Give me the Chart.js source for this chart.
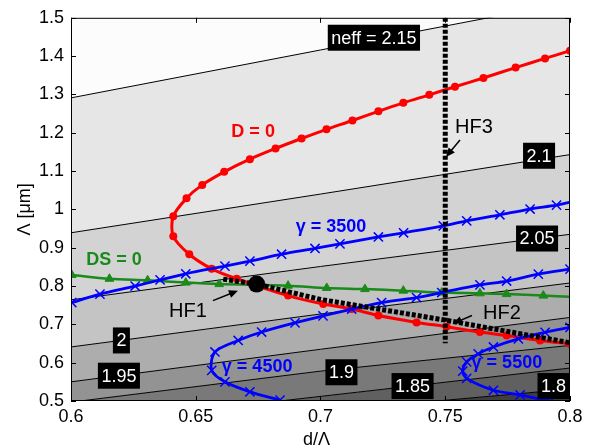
<!DOCTYPE html>
<html>
<head>
<meta charset="utf-8">
<script src="https://cdn.jsdelivr.net/npm/chart.js@4.4.1/dist/chart.umd.min.js"></script>
<style>
  html, body { margin: 0; padding: 0; background: #fff; }
  #wrap { width: 591px; height: 448px; }
</style>
</head>
<body>
<div id="wrap"><canvas id="myChart" width="591" height="448"></canvas></div>
<script>
// Contour lines of neff (Λ in µm read at d/Λ = 0.6, 0.7, 0.8)
const contourX = [0.6, 0.7, 0.8];
const neffLevels = ["2.15", "2.1", "2.05", "2", "1.95", "1.9", "1.85", "1.8"];
const neff215 = [1.291, 1.416, 1.541];
const neff210 = [0.939, 1.040, 1.143];
const neff205 = [0.764, 0.851, 0.935];
const neff200 = [0.641, 0.727, 0.808];
const neff195 = [0.550, 0.635, 0.718];
const neff190 = [0.497, 0.578, 0.645];
const neff185 = [0.438, 0.512, 0.586];
const neff180 = [0.415, 0.473, 0.531];

// D = 0 curve
const dZeroX = [0.8, 0.788, 0.7746, 0.7639, 0.7505, 0.7385, 0.7232, 0.7125, 0.7011, 0.687, 0.6664, 0.6564, 0.6474, 0.641, 0.641,
                0.6463, 0.6526, 0.6614, 0.6717, 0.682, 0.6924, 0.7024, 0.7128, 0.7232, 0.7332, 0.7436, 0.7539, 0.7653, 0.7782, 0.79, 0.8];
const dZeroY = [0.649, 0.658, 0.671, 0.680, 0.694, 0.705, 0.723, 0.740, 0.753, 0.775, 0.819, 0.845, 0.883, 0.930, 0.982,
                1.029, 1.064, 1.098, 1.131, 1.159, 1.185, 1.209, 1.232, 1.256, 1.278, 1.299, 1.320, 1.343, 1.370, 1.394, 1.414];

// γ = 3500, 4500, 5500 curves
const g3500X = [0.6003, 0.6116, 0.6257, 0.6357, 0.646, 0.6617, 0.6717, 0.6844, 0.6978, 0.7078, 0.7232, 0.7333, 0.7492, 0.7586, 0.7719, 0.784, 0.7946, 0.8];
const g3500Y = [0.757, 0.779, 0.800, 0.816, 0.832, 0.852, 0.865, 0.883, 0.898, 0.910, 0.928, 0.939, 0.957, 0.970, 0.986, 1.001, 1.011, 1.019];
const g4500X = [0.6838, 0.6717, 0.6617, 0.6564, 0.6577, 0.667, 0.6764, 0.6898, 0.701, 0.7125, 0.7245, 0.7385, 0.7486, 0.7639, 0.7746, 0.7873, 0.8];
const g4500Y = [0.5026, 0.524, 0.550, 0.580, 0.628, 0.658, 0.680, 0.704, 0.722, 0.740, 0.757, 0.770, 0.783, 0.803, 0.813, 0.831, 0.844];
const g5500X = [0.792, 0.78, 0.7693, 0.7586, 0.757, 0.7586, 0.7632, 0.7693, 0.7793, 0.79, 0.8];
const g5500Y = [0.499, 0.516, 0.528, 0.559, 0.578, 0.602, 0.623, 0.641, 0.662, 0.679, 0.692];

// DS = 0 curve
const dsZeroX = [0.6003, 0.6154, 0.6307, 0.646, 0.6594, 0.687, 0.7025, 0.7178, 0.7332, 0.7486, 0.7639, 0.7746, 0.7893, 0.8];
const dsZeroY = [0.829, 0.819, 0.815, 0.809, 0.805, 0.801, 0.795, 0.792, 0.788, 0.783, 0.781, 0.779, 0.775, 0.772];

// HF design lines and the HF1 point
const hfLineX = [0.661, 0.6744, 0.70, 0.75, 0.8];
const hfLineY = [0.818, 0.805, 0.765, 0.711, 0.652];
const hf3X = [0.75, 0.75];
const hf3Y = [1.5, 0.651];
const hf1PointX = [0.6744];
const hf1PointY = [0.805];

// tick values
const xTicks = [0.6, 0.65, 0.7, 0.75, 0.8];
const yTicks = [0.5, 0.6, 0.7, 0.8, 0.9, 1, 1.1, 1.2, 1.3, 1.4, 1.5];

const FONT = '"Liberation Sans", Arial, Helvetica, sans-serif';

function pts(xs, ys) {
  return xs.map((v, i) => ({x: v, y: ys[i]}));
}

// contour labels (black boxes), placed in data coordinates
const contourTags = [
  {text: "neff = 2.15", x: 0.7214, y: 1.448},
  {text: "2.1", x: 0.7876, y: 1.140},
  {text: "2.05", x: 0.7868, y: 0.924},
  {text: "2", x: 0.6202, y: 0.658},
  {text: "1.95", x: 0.6192, y: 0.566},
  {text: "1.9", x: 0.7084, y: 0.575},
  {text: "1.85", x: 0.7369, y: 0.539},
  {text: "1.8", x: 0.7934, y: 0.539}
];
// curve names
const curveTags = [
  {text: "D = 0", x: 0.673, y: 1.202, color: "#ff0000", bold: true, size: 18},
  {text: "γ = 3500", x: 0.7042, y: 0.953, color: "#0000ff", bold: true, size: 18},
  {text: "DS = 0", x: 0.6172, y: 0.868, color: "#1a8a1a", bold: true, size: 18},
  {text: "γ = 4500", x: 0.6746, y: 0.588, color: "#0000ff", bold: true, size: 18},
  {text: "γ = 5500", x: 0.7747, y: 0.598, color: "#0000ff", bold: true, size: 18},
  {text: "HF1", x: 0.6469, y: 0.733, color: "#000", bold: false, size: 20},
  {text: "HF2", x: 0.7727, y: 0.728, color: "#000", bold: false, size: 20},
  {text: "HF3", x: 0.7615, y: 1.215, color: "#000", bold: false, size: 20}
];
// arrows: tail -> head
const arrows = [
  {x1: 0.6569, y1: 0.762, x2: 0.6669, y2: 0.788},
  {x1: 0.7607, y1: 0.723, x2: 0.7531, y2: 0.702},
  {x1: 0.7559, y1: 1.181, x2: 0.7503, y2: 1.137}
];

const bandFill = ['#e6e6e6', '#d3d3d3', '#c4c4c4', '#adadad', '#939393', '#797979', '#606060', '#3e3e3e'];
const contourData = [neff215, neff210, neff205, neff200, neff195, neff190, neff185, neff180];

// no marker where the curve only runs out to the right edge
const edgeless = r => c => (c.raw && c.raw.x >= 0.8 ? 0 : r);

const datasets = [];
contourData.forEach((ys, i) => {
  datasets.push({
    label: "neff " + neffLevels[i],
    data: pts(contourX, ys),
    borderColor: '#000',
    borderWidth: 1,
    pointRadius: 0,
    tension: 0,
    backgroundColor: bandFill[i],
    fill: i < contourData.length - 1 ? '+1' : 'start',
    order: 10
  });
});
datasets.push({
  label: "DS = 0", data: pts(dsZeroX, dsZeroY),
  borderColor: '#1a8a1a', backgroundColor: '#1a8a1a', borderWidth: 2.5,
  pointStyle: 'triangle', pointRadius: edgeless(5), pointBorderWidth: 1, tension: 0.3, fill: false, order: 5
});
datasets.push({
  label: "D = 0", data: pts(dZeroX, dZeroY),
  borderColor: '#ff0000', backgroundColor: '#ff0000', borderWidth: 3,
  pointStyle: 'circle', pointRadius: 4, pointBorderWidth: 0, tension: 0.3, fill: false, order: 4
});
[[g3500X, g3500Y], [g4500X, g4500Y], [g5500X, g5500Y]].forEach((g, i) => {
  datasets.push({
    label: "gamma " + (3500 + i * 1000), data: pts(g[0], g[1]),
    borderColor: '#0000ff', backgroundColor: '#0000ff', borderWidth: 2.8,
    pointStyle: 'crossRot', pointRadius: i === 0 ? edgeless(6.5) : 6.5, pointBorderWidth: 1.5, tension: 0.3, fill: false, order: 3
  });
});
datasets.push({
  label: "HF line", data: pts(hfLineX, hfLineY),
  borderColor: '#000', borderWidth: 5, borderDash: [4, 2], pointRadius: 0, tension: 0, fill: false, order: 1
});
datasets.push({
  label: "HF3", data: pts(hf3X, hf3Y),
  borderColor: '#000', borderWidth: 5, borderDash: [4, 2], pointRadius: 0, tension: 0, fill: false, order: 1
});
datasets.push({
  label: "HF1", data: pts(hf1PointX, hf1PointY), showLine: false,
  backgroundColor: '#000', borderColor: '#000', pointRadius: 8.5, pointBorderWidth: 0, order: 0
});

const decor = {
  id: 'decor',
  beforeDraw(chart) {
    const {ctx, chartArea: a} = chart;
    ctx.save();
    ctx.fillStyle = '#fcfcfc';
    ctx.fillRect(a.left, a.top, a.right - a.left, a.bottom - a.top);
    ctx.restore();
  },
  afterDatasetsDraw(chart) {
    const {ctx, chartArea: a, scales: {x, y}} = chart;
    ctx.save();
    ctx.beginPath();
    ctx.rect(a.left, a.top, a.right - a.left, a.bottom - a.top);
    ctx.clip();
    ctx.textAlign = 'center';
    ctx.textBaseline = 'middle';
    // contour labels
    ctx.font = '18px ' + FONT;
    contourTags.forEach(t => {
      const px = x.getPixelForValue(t.x), py = y.getPixelForValue(t.y);
      const w = ctx.measureText(t.text).width + 7;
      ctx.fillStyle = '#000';
      ctx.fillRect(px - w / 2, py - 13, w, 26);
      ctx.fillStyle = '#fff';
      ctx.fillText(t.text, px, py + 1);
    });
    // curve names
    curveTags.forEach(t => {
      ctx.font = (t.bold ? 'bold ' : '') + t.size + 'px ' + FONT;
      ctx.fillStyle = t.color;
      ctx.fillText(t.text, x.getPixelForValue(t.x), y.getPixelForValue(t.y));
    });
    // arrows
    ctx.strokeStyle = '#000';
    ctx.fillStyle = '#000';
    ctx.lineWidth = 1.5;
    arrows.forEach(r => {
      const x1 = x.getPixelForValue(r.x1), y1 = y.getPixelForValue(r.y1);
      const x2 = x.getPixelForValue(r.x2), y2 = y.getPixelForValue(r.y2);
      const ang = Math.atan2(y2 - y1, x2 - x1);
      ctx.beginPath();
      ctx.moveTo(x1, y1);
      ctx.lineTo(x2 - 5 * Math.cos(ang), y2 - 5 * Math.sin(ang));
      ctx.stroke();
      ctx.beginPath();
      ctx.moveTo(x2, y2);
      ctx.lineTo(x2 - 9 * Math.cos(ang) + 4 * Math.sin(ang), y2 - 9 * Math.sin(ang) - 4 * Math.cos(ang));
      ctx.lineTo(x2 - 9 * Math.cos(ang) - 4 * Math.sin(ang), y2 - 9 * Math.sin(ang) + 4 * Math.cos(ang));
      ctx.closePath();
      ctx.fill();
    });
    ctx.restore();
  },
  afterDraw(chart) {
    const {ctx, chartArea: a, scales: {x, y}} = chart;
    ctx.save();
    // box and inward ticks
    ctx.strokeStyle = '#000';
    ctx.lineWidth = 1;
    ctx.strokeRect(a.left + 0.5, a.top + 0.5, a.right - a.left - 1, a.bottom - a.top - 1);
    ctx.beginPath();
    xTicks.forEach(v => {
      const px = Math.round(x.getPixelForValue(v)) + 0.5;
      ctx.moveTo(px, a.bottom); ctx.lineTo(px, a.bottom - 5);
      ctx.moveTo(px, a.top); ctx.lineTo(px, a.top + 5);
    });
    yTicks.forEach(v => {
      const py = Math.round(y.getPixelForValue(v)) + 0.5;
      ctx.moveTo(a.left, py); ctx.lineTo(a.left + 5, py);
      ctx.moveTo(a.right, py); ctx.lineTo(a.right - 5, py);
    });
    ctx.stroke();
    // axis titles
    ctx.fillStyle = '#000';
    ctx.font = '18px ' + FONT;
    ctx.textAlign = 'center';
    ctx.textBaseline = 'middle';
    ctx.fillText('d/Λ', (a.left + a.right) / 2 - 4, 440);
    ctx.translate(25, (a.top + a.bottom) / 2);
    ctx.rotate(-Math.PI / 2);
    ctx.fillText('Λ [μm]', 0, 0);
    ctx.restore();
  }
};

const fmt = v => String(+Number(v).toFixed(2));

new Chart(document.getElementById('myChart'), {
  type: 'line',
  data: {datasets: datasets},
  plugins: [decor],
  options: {
    responsive: false,
    devicePixelRatio: 1,
    animation: false,
    layout: {padding: {top: 15, right: 21, left: 0, bottom: 0}},
    plugins: {
      legend: {display: false},
      tooltip: {enabled: false},
      filler: {drawTime: 'beforeDatasetsDraw'}
    },
    scales: {
      x: {
        type: 'linear', min: 0.6, max: 0.8,
        afterBuildTicks: s => { s.ticks = xTicks.map(v => ({value: v})); },
        afterFit: s => { s.height = 47; },
        ticks: {callback: fmt, color: '#000', font: {size: 18, family: FONT}, padding: 5, maxRotation: 0, autoSkip: false},
        grid: {display: false, drawTicks: false},
        border: {display: false}
      },
      y: {
        type: 'linear', min: 0.5, max: 1.5,
        afterBuildTicks: s => { s.ticks = yTicks.map(v => ({value: v})); },
        afterFit: s => { s.width = 71; },
        ticks: {callback: fmt, color: '#000', font: {size: 18, family: FONT}, padding: 7, autoSkip: false},
        grid: {display: false, drawTicks: false},
        border: {display: false}
      }
    }
  }
});
</script>
</body>
</html>
